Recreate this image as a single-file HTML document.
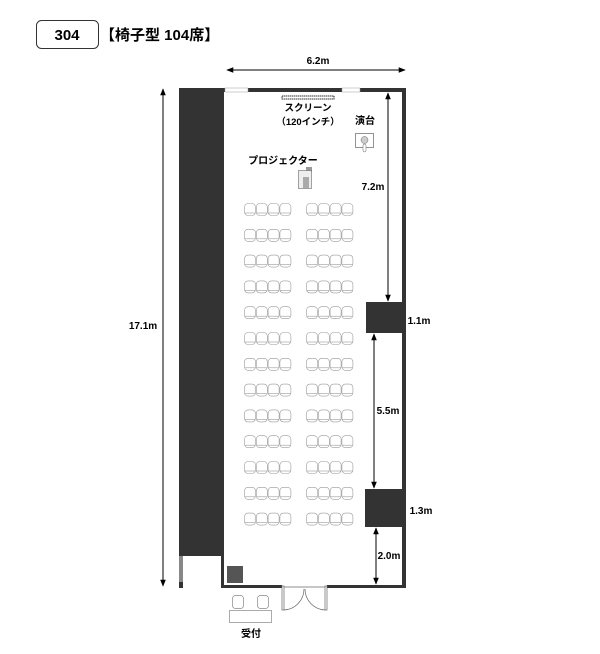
<!DOCTYPE html>
<html><head><meta charset="utf-8"><style>
body{margin:0;background:#fff;}
svg{display:block;font-family:"Liberation Sans","Noto Sans CJK JP",sans-serif;}
</style></head><body>
<svg id="s" width="600" height="654" viewBox="0 0 600 654" xmlns="http://www.w3.org/2000/svg">
<defs>
<marker id="a" viewBox="0 0 10 10" refX="9" refY="5" markerWidth="7" markerHeight="7" orient="auto-start-reverse"><path d="M0,1 L10,5 L0,9 z" fill="#000"/></marker>
</defs>
<rect x="36.5" y="20.5" width="62" height="28" rx="5" fill="#fff" stroke="#333"/>
<text x="67" y="40" font-size="15" font-weight="bold" text-anchor="middle">304</text>
<text x="100" y="40" font-size="15" font-weight="bold">【椅子型 104席】</text>
<!-- dimension lines -->
<line x1="227" y1="70" x2="405" y2="70" stroke="#000" marker-start="url(#a)" marker-end="url(#a)"/>
<text x="318" y="64" font-size="10" font-weight="bold" text-anchor="middle">6.2m</text>
<line x1="163" y1="89" x2="163" y2="586" stroke="#000" marker-start="url(#a)" marker-end="url(#a)"/>
<text x="143" y="329" font-size="10" font-weight="bold" text-anchor="middle">17.1m</text>
<!-- left dark column -->
<rect x="179" y="88" width="45" height="468" fill="#333"/>
<rect x="179" y="556" width="4" height="26" fill="#888"/>
<rect x="179" y="582" width="4" height="6" fill="#333"/>
<rect x="221" y="556" width="3" height="32" fill="#333"/>
<!-- top wall -->
<rect x="224" y="88" width="182" height="4" fill="#333"/>
<rect x="225" y="88" width="23" height="4" fill="#fff" stroke="#999" stroke-width="0.5"/>
<rect x="342" y="88" width="18" height="4" fill="#fff" stroke="#999" stroke-width="0.5"/>
<!-- right wall -->
<rect x="402" y="88" width="4" height="500" fill="#333"/>
<!-- bottom wall -->
<rect x="221" y="585" width="61" height="3" fill="#333"/>
<rect x="327" y="585" width="79" height="3" fill="#333"/>
<!-- door -->
<g fill="none" stroke="#666" stroke-width="0.7">
<rect x="282" y="586" width="2" height="24"/><rect x="325" y="586" width="2" height="24"/>
<line x1="284" y1="587" x2="325" y2="587"/>
<path d="M284,610 A21,21 0 0 0 304,589"/><path d="M325,610 A21,21 0 0 1 305,589"/>
</g>
<!-- pillars -->
<rect x="366" y="302" width="37" height="31" fill="#333"/>
<rect x="365" y="489" width="38" height="38" fill="#333"/>
<rect x="227" y="566" width="16" height="17" fill="#555"/>
<!-- inner arrows -->
<line x1="388" y1="93" x2="388" y2="301" stroke="#000" marker-start="url(#a)" marker-end="url(#a)"/>
<text x="373" y="190" font-size="10" font-weight="bold" text-anchor="middle">7.2m</text>
<text x="419" y="324" font-size="10" font-weight="bold" text-anchor="middle">1.1m</text>
<line x1="374" y1="334" x2="374" y2="488" stroke="#000" marker-start="url(#a)" marker-end="url(#a)"/>
<text x="388" y="414" font-size="10" font-weight="bold" text-anchor="middle">5.5m</text>
<text x="421" y="514" font-size="10" font-weight="bold" text-anchor="middle">1.3m</text>
<line x1="376" y1="528" x2="376" y2="584" stroke="#000" marker-start="url(#a)" marker-end="url(#a)"/>
<text x="389" y="559" font-size="10" font-weight="bold" text-anchor="middle">2.0m</text>
<!-- screen -->
<rect x="282" y="96" width="52" height="3" fill="#fff" stroke="#333" stroke-dasharray="1.5,0.5"/>
<text x="308" y="111" font-size="9.5" font-weight="bold" text-anchor="middle">スクリーン</text>
<text x="308" y="125" font-size="9.5" font-weight="bold" text-anchor="middle">（120インチ）</text>
<text x="365" y="124" font-size="10" font-weight="bold" text-anchor="middle">演台</text>
<rect x="355.5" y="133.5" width="18" height="14" fill="#fff" stroke="#666" stroke-width="0.7"/>
<circle cx="364.5" cy="140" r="3.5" fill="#ccc" stroke="#666" stroke-width="0.5"/>
<rect x="363" y="144" width="3" height="8" rx="1.5" fill="#fff" stroke="#666" stroke-width="0.5"/>
<text x="283" y="164" font-size="10" font-weight="bold" text-anchor="middle">プロジェクター</text>
<rect x="306" y="167" width="6" height="5" fill="#999"/>
<rect x="298.5" y="170.5" width="13" height="18" fill="#eee" stroke="#666" stroke-width="0.6"/>
<rect x="303" y="177" width="6" height="11" fill="#aaa"/>
<g id="chairs" fill="#fff" stroke="#999" stroke-width="0.6"></g>
<!-- reception -->
<g fill="#fff" stroke="#888" stroke-width="0.7">
<rect x="232.5" y="595.5" width="11" height="13" rx="3"/>
<rect x="257.5" y="595.5" width="11" height="13" rx="3"/>
<rect x="229.5" y="610.5" width="42" height="12"/>
</g>
<text x="251" y="637" font-size="10" font-weight="bold" text-anchor="middle">受付</text>
</svg>
<script>
var g=document.getElementById('chairs'),h='';
for(var r=0;r<13;r++){var y=203+r*25.8;
[244,306].forEach(function(x0){for(var c=0;c<4;c++){var x=x0+c*11.8;
h+='<rect x="'+(x+0.5)+'" y="'+(y+0.5)+'" width="11" height="12" rx="3.5"/><line x1="'+(x+1)+'" y1="'+(y+10)+'" x2="'+(x+11)+'" y2="'+(y+10)+'"/>';}});}
g.innerHTML=h;
</script>
</body></html>
